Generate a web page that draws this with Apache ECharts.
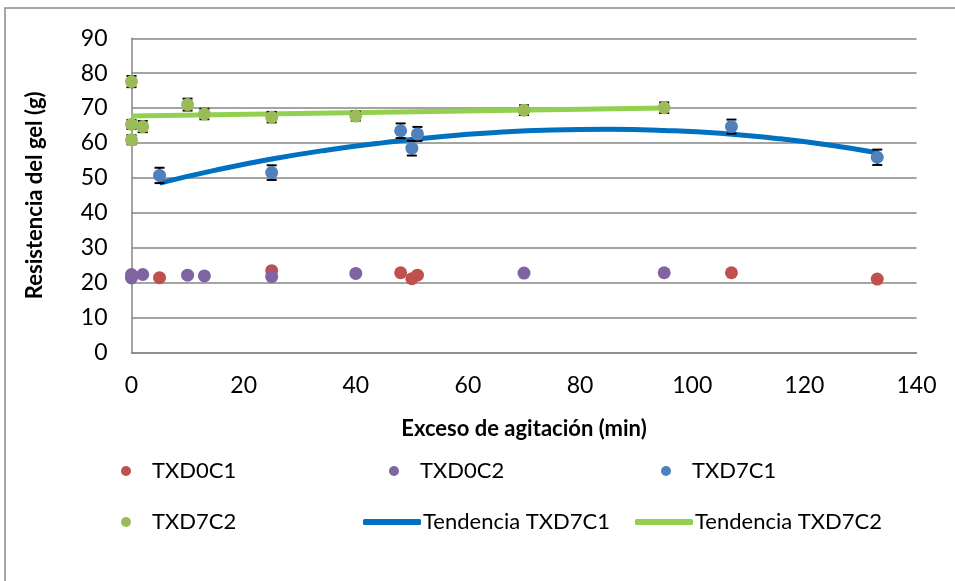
<!DOCTYPE html>
<html>
<head>
<meta charset="utf-8">
<script src="https://cdn.jsdelivr.net/npm/echarts@6/dist/echarts.min.js"></script>
<style>
html,body{margin:0;padding:0;background:#fff;}
#chart{width:955px;height:581px;}
</style>
</head>
<body>
<div id="chart"></div>
<script>
// ---- data ----
var xTicks = [0, 20, 40, 60, 80, 100, 120, 140];
var yTicks = [0, 10, 20, 30, 40, 50, 60, 70, 80, 90];

var txd0c1X = [5, 25, 48, 50, 51, 107, 133];
var txd0c1Y = [21.4, 23.4, 22.8, 21.1, 22.1, 22.8, 21.0];

var txd0c2X = [0, 0, 2, 10, 13, 25, 40, 70, 95];
var txd0c2Y = [22.3, 21.3, 22.3, 22.1, 21.9, 21.7, 22.6, 22.7, 22.8];

var txd7c1X = [5, 25, 48, 50, 51, 107, 133];
var txd7c1Y = [50.7, 51.5, 63.5, 58.5, 62.6, 64.7, 55.9];
var txd7c1Err = [2.2, 2.1, 2.1, 2.1, 2.0, 2.0, 2.2];

var txd7c2X = [0, 0, 0, 2, 10, 13, 25, 40, 70, 95];
var txd7c2Y = [77.6, 65.3, 60.9, 64.7, 71.0, 68.3, 67.4, 67.7, 69.4, 70.1];
var txd7c2Err = [1.6, 1.3, 1.3, 1.6, 1.7, 1.5, 1.5, 1.3, 1.4, 1.5];

var trendC1X = [5, 15, 25, 35, 45, 55, 65, 75, 85, 95, 105, 115, 125, 133];
var trendC1Y = [48.5, 52.2, 55.4, 58.0, 60.1, 61.8, 63.0, 63.7, 63.9, 63.6, 62.8, 61.3, 59.3, 57.2];

var trendC2X = [0, 95];
var trendC2Y = [67.7, 70.0];

var names = ['TXD0C1', 'TXD0C2', 'TXD7C1', 'TXD7C2', 'Tendencia TXD7C1', 'Tendencia TXD7C2'];
var colors = ['#C0504D', '#8064A2', '#4F81BD', '#9BBB59', '#0070C0', '#92D050'];

function pairs(xs, ys) { return xs.map(function (x, i) { return [x, ys[i]]; }); }
function triples(xs, ys, es) { return xs.map(function (x, i) { return [x, ys[i], es[i]]; }); }

var FONT = 'Lato, "Open Sans", sans-serif';

function errorRender(params, api) {
  var x = api.value(0), y = api.value(1), e = api.value(2);
  var top = api.coord([x, y + e]);
  var bot = api.coord([x, y - e]);
  var half = 5;
  var style = { stroke: '#000', lineWidth: 2 };
  return {
    type: 'group',
    children: [
      { type: 'line', shape: { x1: top[0], y1: top[1], x2: bot[0], y2: bot[1] }, style: style },
      { type: 'line', shape: { x1: top[0] - half, y1: top[1], x2: top[0] + half, y2: top[1] }, style: style },
      { type: 'line', shape: { x1: bot[0] - half, y1: bot[1], x2: bot[0] + half, y2: bot[1] }, style: style }
    ]
  };
}

function legendItem(name, left, top, isLine) {
  return {
    data: [name],
    left: left,
    top: top,
    orient: 'horizontal',
    icon: isLine ? 'roundRect' : 'circle',
    itemWidth: isLine ? 58 : 10,
    itemHeight: isLine ? 6 : 10,
    textStyle: {
      fontFamily: FONT, fontSize: 22, color: '#000',
      padding: isLine ? [0, 0, 0, -3] : [0, 0, 0, 16]
    },
    selectedMode: false
  };
}

var chart = echarts.init(document.getElementById('chart'));
chart.setOption({
  animation: false,
  backgroundColor: '#fff',
  color: colors,
  graphic: [{
    type: 'rect',
    shape: { x: 5, y: 8, width: 960, height: 600 },
    style: { fill: 'none', stroke: '#8a8a8a', lineWidth: 1.5 },
    silent: true
  }],
  grid: { left: 131.5, right: 38.5, top: 38.3, bottom: 228.7, containLabel: false },
  xAxis: {
    type: 'value', min: xTicks[0], max: xTicks[xTicks.length - 1], interval: 20,
    axisLine: { show: true, lineStyle: { color: '#868686', width: 1.5 } },
    axisTick: { show: false },
    splitLine: { show: false },
    axisLabel: { fontFamily: FONT, fontSize: 23, color: '#000', margin: 22 },
    name: 'Exceso de agitación (min)',
    nameLocation: 'middle', nameGap: 66,
    nameTextStyle: { fontFamily: FONT, fontSize: 22, fontWeight: 'bold', color: '#000' }
  },
  yAxis: {
    type: 'value', min: yTicks[0], max: yTicks[yTicks.length - 1], interval: 10,
    axisLine: { show: true, lineStyle: { color: '#868686', width: 1.5 } },
    axisTick: { show: false },
    splitLine: { show: true, lineStyle: { color: '#868686', width: 1.5 } },
    axisLabel: { fontFamily: FONT, fontSize: 23, color: '#000', margin: 24 },
    name: 'Resistencia del gel (g)',
    nameLocation: 'middle', nameGap: 86, nameRotate: 90,
    nameTextStyle: { fontFamily: FONT, fontSize: 22, fontWeight: 'bold', color: '#000' }
  },
  legend: [
    legendItem(names[0], 116, 455, false),
    legendItem(names[1], 384, 455, false),
    legendItem(names[2], 656, 455, false),
    legendItem(names[3], 116, 506, false),
    legendItem(names[4], 358, 506, true),
    legendItem(names[5], 630, 506, true)
  ],
  series: [
    { name: names[4], type: 'line', data: pairs(trendC1X, trendC1Y), smooth: true, showSymbol: false,
      lineStyle: { color: colors[4], width: 5 }, itemStyle: { color: colors[4] }, z: 2 },
    { name: names[5], type: 'line', data: pairs(trendC2X, trendC2Y), showSymbol: false,
      lineStyle: { color: colors[5], width: 5 }, itemStyle: { color: colors[5] }, z: 2 },
    { type: 'custom', data: triples(txd7c1X, txd7c1Y, txd7c1Err), renderItem: errorRender,
      encode: { x: 0, y: 1 }, z: 3, silent: true },
    { type: 'custom', data: triples(txd7c2X, txd7c2Y, txd7c2Err), renderItem: errorRender,
      encode: { x: 0, y: 1 }, z: 3, silent: true },
    { name: names[0], type: 'scatter', data: pairs(txd0c1X, txd0c1Y), symbolSize: 13,
      itemStyle: { color: colors[0], opacity: 1 }, z: 4 },
    { name: names[1], type: 'scatter', data: pairs(txd0c2X, txd0c2Y), symbolSize: 13,
      itemStyle: { color: colors[1], opacity: 1 }, z: 4 },
    { name: names[2], type: 'scatter', data: pairs(txd7c1X, txd7c1Y), symbolSize: 13,
      itemStyle: { color: colors[2], opacity: 1 }, z: 4 },
    { name: names[3], type: 'scatter', data: pairs(txd7c2X, txd7c2Y), symbolSize: 13,
      itemStyle: { color: colors[3], opacity: 1 }, z: 4 }
  ]
});
</script>
</body>
</html>
